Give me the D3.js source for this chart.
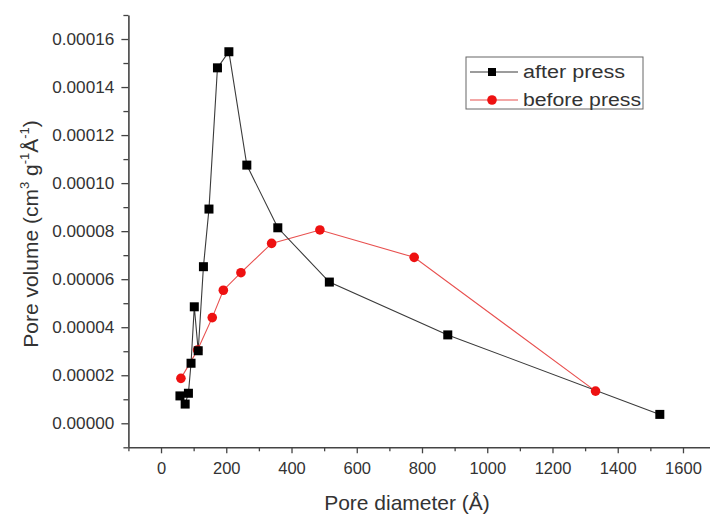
<!DOCTYPE html>
<html>
<head>
<meta charset="utf-8">
<script src="https://cdn.jsdelivr.net/npm/d3@7"></script>
<style>
  body { margin: 0; background: #fff; }
  svg text { font-family: "Liberation Sans", Arial, sans-serif; fill: #333; }
</style>
</head>
<body>
<div id="chart"></div>
<script>
// pore diameter (Å) and pore volume
let afterX = [58, 74, 84, 92, 102, 114, 130, 147, 173, 208, 263, 358, 516, 879, 1529];
let afterY = [0.0000114, 0.0000080, 0.0000125, 0.0000250, 0.0000485, 0.0000302, 0.0000652,
              0.0000892, 0.0001480, 0.0001547, 0.0001075, 0.0000814, 0.0000588, 0.0000368, 0.0000037];
let beforeX = [61, 112, 157, 191, 245, 339, 487, 776, 1332];
let beforeY = [0.0000187, 0.0000305, 0.0000440, 0.0000554, 0.0000627, 0.0000749, 0.0000805, 0.0000691, 0.0000134];

let xMajor = [0, 200, 400, 600, 800, 1000, 1200, 1400, 1600];
let xMinor = [-100, 100, 300, 500, 700, 900, 1100, 1300, 1500, 1700];
let yMajor = [0, 0.00002, 0.00004, 0.00006, 0.00008, 0.0001, 0.00012, 0.00014, 0.00016];
let yMinor = [-0.00001, 0.00001, 0.00003, 0.00005, 0.00007, 0.00009, 0.00011, 0.00013, 0.00015, 0.00017];

let seriesNames = ["after press", "before press"];

let width = 710, height = 518;
let axisColor = "#444";

let x = d3.scaleLinear().domain([-100, 1700]).range([128.4, 715.6]);
let y = d3.scaleLinear().domain([-0.00001, 0.00017]).range([447.3, 15]);

let svg = d3.select("#chart").append("svg")
    .attr("width", width)
    .attr("height", height);

// axes, Origin style: outward ticks, only left and bottom
let xAxis = svg.append("g").attr("transform", `translate(0,${y(-0.00001)})`);
xAxis.call(d3.axisBottom(x).tickValues(xMajor).tickSize(6).tickSizeOuter(0).tickFormat(d3.format("d")));
xAxis.append("g").call(d3.axisBottom(x).tickValues(xMinor).tickSize(4).tickSizeOuter(0).tickFormat(""))
    .select(".domain").remove();

let yAxis = svg.append("g").attr("transform", `translate(${x(-100)},0)`);
yAxis.call(d3.axisLeft(y).tickValues(yMajor).tickSize(7).tickSizeOuter(0).tickFormat(d3.format(".5f")));
yAxis.append("g").call(d3.axisLeft(y).tickValues(yMinor).tickSize(5).tickSizeOuter(0).tickFormat(""))
    .select(".domain").remove();

svg.selectAll(".domain").attr("stroke", axisColor).attr("stroke-width", 1.6);
svg.selectAll(".tick line").attr("stroke", axisColor).attr("stroke-width", 1.3);
svg.selectAll(".tick text")
    .attr("font-size", 16.5)
    .attr("font-family", "Liberation Sans, Arial, sans-serif")
    .attr("fill", "#3a3a3a");
xAxis.selectAll(".tick text").attr("dy", "1.05em");
yAxis.selectAll(".tick text").attr("dx", "-0.25em")
    .attr("textLength", 62).attr("lengthAdjust", "spacingAndGlyphs");

// axis titles
svg.append("text")
    .attr("x", 407)
    .attr("y", 510)
    .attr("text-anchor", "middle")
    .attr("font-size", 21)
    .text("Pore diameter (Å)");

let yTitle = svg.append("text")
    .attr("transform", "translate(38,234) rotate(-90)")
    .attr("text-anchor", "middle")
    .attr("font-size", 21);
yTitle.append("tspan").text("Pore volume (cm");
yTitle.append("tspan").attr("font-size", 13).attr("dy", -9).text("3");
yTitle.append("tspan").attr("dy", 9).text(" g");
yTitle.append("tspan").attr("font-size", 13).attr("dy", -9).text("-1");
yTitle.append("tspan").attr("dy", 9).text("Å");
yTitle.append("tspan").attr("font-size", 13).attr("dy", -9).text("-1");
yTitle.append("tspan").attr("dy", 9).text(")");

// series
let after = afterX.map((d, i) => ({ x: d, y: afterY[i] }));
let before = beforeX.map((d, i) => ({ x: d, y: beforeY[i] }));

let line = d3.line().x(d => x(d.x)).y(d => y(d.y));

svg.append("path")
    .datum(before)
    .attr("d", line)
    .attr("fill", "none")
    .attr("stroke", "#e8504f")
    .attr("stroke-width", 1.1);

svg.append("path")
    .datum(after)
    .attr("d", line)
    .attr("fill", "none")
    .attr("stroke", "#3a3a3a")
    .attr("stroke-width", 1.1);

svg.append("g").selectAll("circle")
    .data(before)
    .enter().append("circle")
    .attr("cx", d => x(d.x))
    .attr("cy", d => y(d.y))
    .attr("r", 4.8)
    .attr("fill", "#ee1111");

svg.append("g").selectAll("rect")
    .data(after)
    .enter().append("rect")
    .attr("x", d => x(d.x) - 4.5)
    .attr("y", d => y(d.y) - 4.5)
    .attr("width", 9)
    .attr("height", 9)
    .attr("fill", "#000");

// legend
let legend = svg.append("g").attr("transform", "translate(466,57)");
legend.append("rect")
    .attr("width", 177)
    .attr("height", 52)
    .attr("fill", "#fff")
    .attr("stroke", "#666")
    .attr("stroke-width", 1);

let legendColors = ["#3a3a3a", "#e8504f"];
seriesNames.forEach((name, i) => {
    let row = legend.append("g").attr("transform", `translate(0,${15 + i * 28})`);
    row.append("line")
        .attr("x1", 4).attr("x2", 52)
        .attr("stroke", legendColors[i])
        .attr("stroke-width", 1.1);
    if (i === 0) {
        row.append("rect").attr("x", 22).attr("y", -4).attr("width", 8).attr("height", 8).attr("fill", "#000");
    } else {
        row.append("circle").attr("cx", 26).attr("r", 4.8).attr("fill", "#ee1111");
    }
    row.append("text")
        .attr("x", 57)
        .attr("y", 6)
        .attr("font-size", 18)
        .attr("textLength", i === 0 ? 102 : 118)
        .attr("lengthAdjust", "spacingAndGlyphs")
        .text(name);
});
</script>
</body>
</html>
